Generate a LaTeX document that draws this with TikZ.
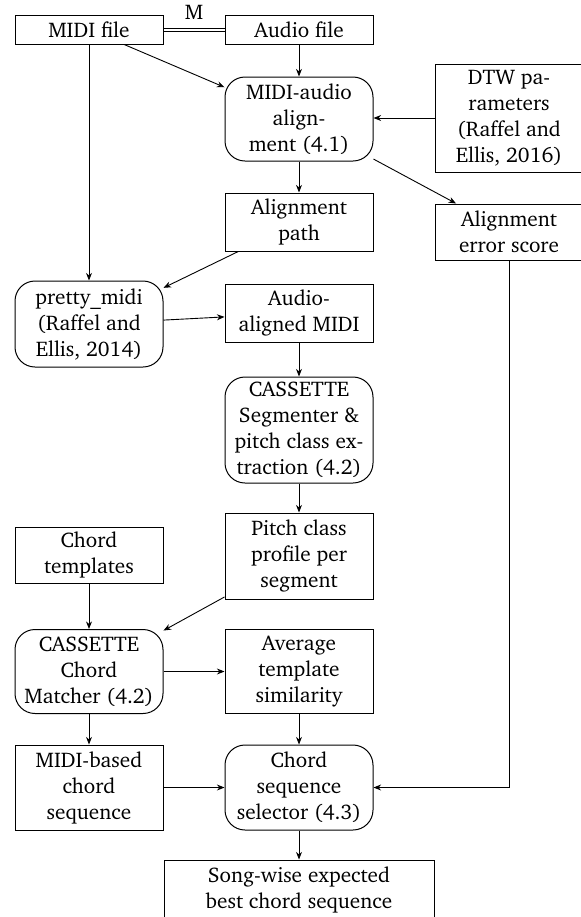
\documentclass[tikz,border=0pt]{standalone}
\usepackage[T1]{fontenc}
\usepackage{charter}
\usetikzlibrary{arrows.meta}

\tikzset{
  box/.style={draw, rectangle, line width=0.5pt, minimum width=74pt, inner sep=1pt,
              align=center, font=\fontsize{10.6}{13}\selectfont},
  rbox/.style={box, rounded corners=10pt},
  arr/.style={-{Stealth[length=3.8pt,width=3pt]}, line width=0.45pt},
  twin/.style={line width=0.4pt},
}

\begin{document}
\begin{tikzpicture}[x=0.5pt,y=-0.5pt]
  \useasboundingbox (0,0) rectangle (580,917);

  % left column
  \node[box, minimum height=14.5pt] (midi)    at (89,29.5)  {MIDI file};
  \node[rbox, minimum height=43pt]  (pm)      at (89,324)   {pretty\_midi\\(Raffel and\\Ellis, 2014)};
  \node[box, minimum height=28pt]   (templ)   at (89,555)   {Chord\\templates};
  \node[rbox, minimum height=42pt]  (matcher) at (89,671.5) {CASSETTE\\Chord\\Matcher (4.2)};
  \node[box, minimum height=42.5pt] (mbased)  at (89,787.5) {MIDI-based\\chord\\sequence};

  % middle column
  \node[box, minimum height=14.5pt] (audio)   at (299,29.5) {Audio file};
  \node[rbox, minimum height=42pt]  (align)   at (299,119)  {MIDI-audio\\align-\\ment (4.1)};
  \node[box, minimum height=29pt]   (path)    at (299,222)  {Alignment\\path};
  \node[box, minimum height=29pt]   (aam)     at (299,313)  {Audio-\\aligned MIDI};
  \node[rbox, minimum height=53pt]  (seg)     at (299,430)  {CASSETTE\\Segmenter \&\\pitch class ex-\\traction (4.2)};
  \node[box, minimum height=43pt]   (pcp)     at (299,556)  {Pitch class\\profile per\\segment};
  \node[box, minimum height=42pt]   (avg)     at (299,671.5){Average\\template\\similarity};
  \node[rbox, minimum height=42.5pt](sel)     at (299,787.5){Chord\\sequence\\selector (4.3)};
  \node[box, minimum width=135pt, minimum height=30pt] (song) at (299,890)
        {Song-wise expected\\best chord sequence};

  % right column
  \node[box, minimum height=54pt]   (dtw)     at (509,118)  {DTW pa-\\rameters\\(Raffel and\\Ellis, 2016)};
  \node[box, minimum height=28pt]   (err)     at (509,232)  {Alignment\\error score};

  % double link between the two input files, labelled M
  \draw[twin] ([yshift=0.8pt]midi.east) -- node[above=0.5pt, font=\fontsize{10.6}{13}\selectfont] (mlabel) {M}
              ([yshift=0.8pt]audio.west);
  \draw[twin] ([yshift=-0.8pt]midi.east) -- ([yshift=-0.8pt]audio.west);

  % connectors
  \draw[arr] (midi.south) -- (pm.north);
  \draw[arr] (midi) -- (align);
  \draw[arr] (audio) -- (align);
  \draw[arr] (dtw.west) -- (dtw.west -| align.east);
  \draw[arr] (align) -- (path);
  \draw[arr] (align) -- (err);
  \draw[arr] (path) -- (pm);
  \draw[arr] (pm) -- (aam);
  \draw[arr] (aam) -- (seg);
  \draw[arr] (seg) -- (pcp);
  \draw[arr] (templ) -- (matcher);
  \draw[arr] (pcp) -- (matcher);
  \draw[arr] (matcher) -- (avg);
  \draw[arr] (matcher) -- (mbased);
  \draw[arr] (avg) -- (sel);
  \draw[arr] (mbased) -- (sel);
  \draw[arr] (err.south) |- (sel.east);
  \draw[arr] (sel) -- (song);
\end{tikzpicture}
\end{document}
